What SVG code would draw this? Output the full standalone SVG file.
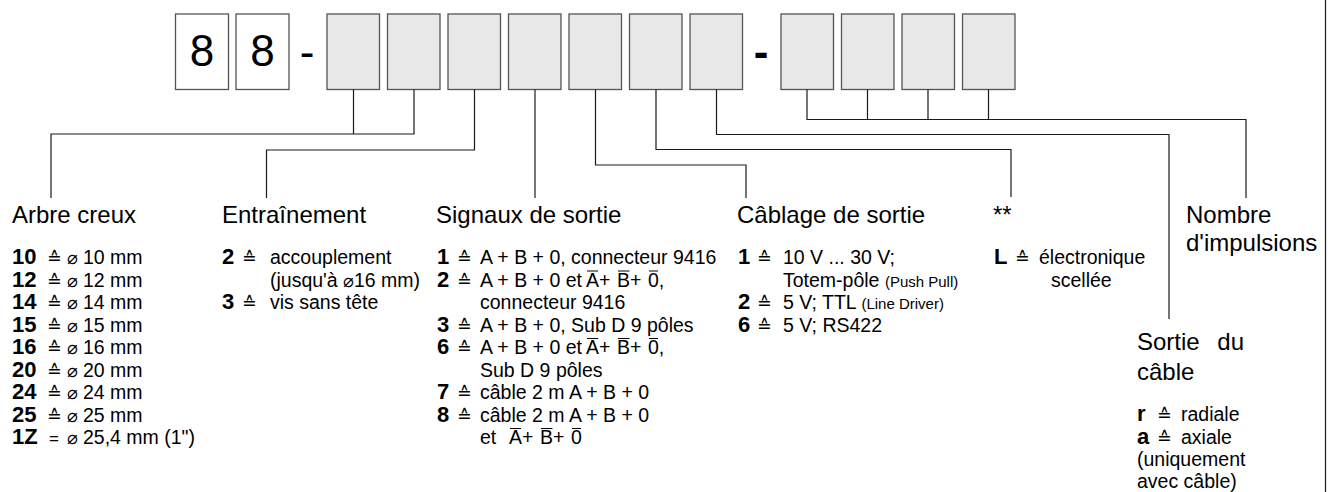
<svg xmlns="http://www.w3.org/2000/svg" width="1333" height="492" viewBox="0 0 1333 492">
<style>
text{font-family:"Liberation Sans",Arial,"DejaVu Sans",sans-serif;fill:#000}
.box{fill:#fff;stroke:#555;stroke-width:1.3}
.gbox{fill:#e8e8e8;stroke:#555;stroke-width:1.3}
.big{font-size:44px;text-anchor:middle}
.t{font-size:24px}
.i{font-size:19.5px}
.n{font-weight:bold;font-size:22px}
.eq{font-family:"DejaVu Sans",sans-serif;font-size:17.5px;font-weight:normal}
.eq2{font-size:17px}
.dia{font-family:"DejaVu Sans",sans-serif;font-size:18px}
.sm{font-size:15px}
.c{fill:none;stroke:#1a1a1a;stroke-width:1.2}
.ol{fill:none;stroke:#000;stroke-width:1.1}
</style>
<rect width="1333" height="492" fill="#fff"/>
<g id="code">
<g id="d1"><rect class="box" x="175.5" y="14" width="53" height="75.5"/><text class="big" x="202" y="66">8</text></g>
<g id="d2"><rect class="box" x="236" y="14" width="53" height="75.5"/><text class="big" x="262.5" y="66">8</text></g>
<text class="big" x="307" y="67">-</text>
<g id="b3"><rect class="gbox" x="327" y="14" width="52.5" height="75.5"/></g>
<g id="b4"><rect class="gbox" x="387.5" y="14" width="52.5" height="75.5"/></g>
<g id="b5"><rect class="gbox" x="448" y="14" width="52.5" height="75.5"/></g>
<g id="b6"><rect class="gbox" x="508.5" y="14" width="52.5" height="75.5"/></g>
<g id="b7"><rect class="gbox" x="569" y="14" width="52.5" height="75.5"/></g>
<g id="b8"><rect class="gbox" x="629.5" y="14" width="52.5" height="75.5"/></g>
<g id="b9"><rect class="gbox" x="690" y="14" width="52.5" height="75.5"/></g>
<text class="big" x="761" y="67" style="font-weight:bold">-</text>
<g id="b10"><rect class="gbox" x="781" y="14" width="52.5" height="75.5"/></g>
<g id="b11"><rect class="gbox" x="841.5" y="14" width="52.5" height="75.5"/></g>
<g id="b12"><rect class="gbox" x="902" y="14" width="52.5" height="75.5"/></g>
<g id="b13"><rect class="gbox" x="962.5" y="14" width="52.5" height="75.5"/></g>
</g>
<g id="connectors">
<path class="c" d="M51,198 V134 H414 V89.5 M353.5,89.5 V134"/>
<path class="c" d="M266.5,198 V150 H474.5 V89.5"/>
<path class="c" d="M535,198 V89.5"/>
<path class="c" d="M595.5,89.5 V165 H746 V198"/>
<path class="c" d="M656,89.5 V149.5 H1011 V197"/>
<path class="c" d="M716.5,89.5 V134.5 H1169 V319"/>
<path class="c" d="M807,89.5 V119.5 H1246 V198 M867.5,89.5 V119.5 M928,89.5 V119.5 M988.5,89.5 V119.5"/>
<path class="c" d="M1325.5,0 V492"/>
</g>
<g id="arbre">
<text class="t" x="12" y="223">Arbre creux</text>
<text class="i" x="12" y="264"><tspan class="n">10</tspan><tspan class="eq" x="47">≙</tspan><tspan class="dia" x="67">⌀</tspan><tspan x="83">10 mm</tspan></text>
<text class="i" x="12" y="286.5"><tspan class="n">12</tspan><tspan class="eq" x="47">≙</tspan><tspan class="dia" x="67">⌀</tspan><tspan x="83">12 mm</tspan></text>
<text class="i" x="12" y="309"><tspan class="n">14</tspan><tspan class="eq" x="47">≙</tspan><tspan class="dia" x="67">⌀</tspan><tspan x="83">14 mm</tspan></text>
<text class="i" x="12" y="331.5"><tspan class="n">15</tspan><tspan class="eq" x="47">≙</tspan><tspan class="dia" x="67">⌀</tspan><tspan x="83">15 mm</tspan></text>
<text class="i" x="12" y="354"><tspan class="n">16</tspan><tspan class="eq" x="47">≙</tspan><tspan class="dia" x="67">⌀</tspan><tspan x="83">16 mm</tspan></text>
<text class="i" x="12" y="376.5"><tspan class="n">20</tspan><tspan class="eq" x="47">≙</tspan><tspan class="dia" x="67">⌀</tspan><tspan x="83">20 mm</tspan></text>
<text class="i" x="12" y="399"><tspan class="n">24</tspan><tspan class="eq" x="47">≙</tspan><tspan class="dia" x="67">⌀</tspan><tspan x="83">24 mm</tspan></text>
<text class="i" x="12" y="421.5"><tspan class="n">25</tspan><tspan class="eq" x="47">≙</tspan><tspan class="dia" x="67">⌀</tspan><tspan x="83">25 mm</tspan></text>
<text class="i" x="12" y="444"><tspan class="n">1Z</tspan><tspan class="eq2" x="49">=</tspan><tspan class="dia" x="67">⌀</tspan><tspan x="83">25,4 mm (1")</tspan></text>
</g>
<g id="entrainement">
<text class="t" x="222" y="223">Entraînement</text>
<text class="i" x="222" y="264"><tspan class="n">2</tspan><tspan class="eq" x="242">≙</tspan><tspan x="270">accouplement</tspan></text>
<text class="i" x="270" y="286.5">(jusqu'à <tspan class="dia">⌀</tspan>16 mm)</text>
<text class="i" x="222" y="309"><tspan class="n">3</tspan><tspan class="eq" x="242">≙</tspan><tspan x="270">vis sans tête</tspan></text>
</g>
<g id="signaux">
<text class="t" x="436" y="223">Signaux de sortie</text>
<text class="i" x="437" y="264"><tspan class="n">1</tspan><tspan class="eq" x="457">≙</tspan><tspan x="480">A + B + 0, connecteur 9416</tspan></text>
<text class="i" x="437" y="286.5"><tspan class="n">2</tspan><tspan class="eq" x="457">≙</tspan><tspan x="480">A + B + 0 et </tspan><tspan x="586">A</tspan>+ <tspan x="617">B</tspan>+ <tspan x="648">0</tspan>,</text>
<text class="i" x="480" y="309">connecteur 9416</text>
<text class="i" x="437" y="331.5"><tspan class="n">3</tspan><tspan class="eq" x="457">≙</tspan><tspan x="480">A + B + 0, Sub D 9 pôles</tspan></text>
<text class="i" x="437" y="354"><tspan class="n">6</tspan><tspan class="eq" x="457">≙</tspan><tspan x="480">A + B + 0 et </tspan><tspan x="586">A</tspan>+ <tspan x="617">B</tspan>+ <tspan x="648">0</tspan>,</text>
<text class="i" x="480" y="376.5">Sub D 9 pôles</text>
<text class="i" x="437" y="399"><tspan class="n">7</tspan><tspan class="eq" x="457">≙</tspan><tspan x="480">câble 2 m A + B + 0</tspan></text>
<text class="i" x="437" y="421.5"><tspan class="n">8</tspan><tspan class="eq" x="457">≙</tspan><tspan x="480">câble 2 m A + B + 0</tspan></text>
<text class="i" x="480" y="444">et  <tspan x="509">A</tspan>+ <tspan x="540">B</tspan>+ <tspan x="571">0</tspan></text>
<path class="ol" d="M587,271 H598 M618,271 H629.5 M649,271 H658 M587,338.5 H598 M618,338.5 H629.5 M649,338.5 H658 M510,428.5 H521 M541,428.5 H552.5 M572,428.5 H581"/>
</g>
<g id="cablage">
<text class="t" x="737" y="223">Câblage de sortie</text>
<text class="i" x="738" y="264"><tspan class="n">1</tspan><tspan class="eq" x="757">≙</tspan><tspan x="783">10 V ... 30 V;</tspan></text>
<text class="i" x="783" y="286.5">Totem-pôle <tspan class="sm">(Push Pull)</tspan></text>
<text class="i" x="738" y="309"><tspan class="n">2</tspan><tspan class="eq" x="757">≙</tspan><tspan x="783">5 V; TTL </tspan><tspan class="sm">(Line Driver)</tspan></text>
<text class="i" x="738" y="331.5"><tspan class="n">6</tspan><tspan class="eq" x="757">≙</tspan><tspan x="783">5 V; RS422</tspan></text>
</g>
<g id="option">
<text class="t" x="993" y="223">**</text>
<text class="i" x="994" y="264"><tspan class="n">L</tspan><tspan class="eq" x="1015">≙</tspan><tspan x="1039">électronique</tspan></text>
<text class="i" x="1051" y="286.5">scellée</text>
</g>
<g id="impulsions">
<text class="t" x="1186" y="223">Nombre</text>
<text class="t" x="1186" y="251">d'impulsions</text>
</g>
<g id="sortie-cable">
<text class="t" x="1137" y="350" style="word-spacing:11px">Sortie du</text>
<text class="t" x="1137" y="380">câble</text>
<text class="i" x="1137" y="421"><tspan class="n">r</tspan><tspan class="eq" x="1157">≙</tspan><tspan x="1181">radiale</tspan></text>
<text class="i" x="1137" y="443.5"><tspan class="n">a</tspan><tspan class="eq" x="1157">≙</tspan><tspan x="1181">axiale</tspan></text>
<text class="i" x="1137" y="466">(uniquement</text>
<text class="i" x="1137" y="488">avec câble)</text>
</g>
</svg>
